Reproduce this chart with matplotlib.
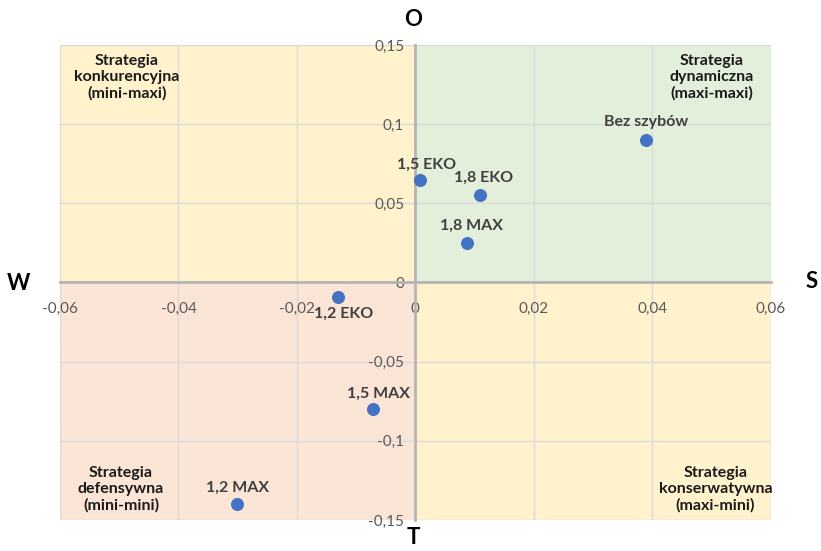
import matplotlib.pyplot as plt
from matplotlib.patches import Rectangle
from matplotlib.ticker import FuncFormatter

# data
labels = ['Bez szybów', '1,5 EKO', '1,8 EKO', '1,8 MAX', '1,2 EKO', '1,5 MAX', '1,2 MAX']
x_vals = [0.039, 0.0008, 0.011, 0.0088, -0.013, -0.0071, -0.0301]
y_vals = [0.090, 0.065, 0.055, 0.025, -0.009, -0.080, -0.140]
# label offsets in points (dx, dy)
label_offsets = [(0, 13), (5, 11), (2, 13), (3, 12), (4, -12), (4, 11), (0, 12)]

x_ticks = [-0.06, -0.04, -0.02, 0, 0.02, 0.04, 0.06]
y_ticks = [-0.15, -0.1, -0.05, 0, 0.05, 0.1, 0.15]

quadrant_texts = ['Strategia\nkonkurencyjna\n(mini-maxi)',
                  'Strategia\ndynamiczna\n(maxi-maxi)',
                  'Strategia\ndefensywna\n(mini-mini)',
                  'Strategia\nkonserwatywna\n(maxi-mini)']

plt.rcParams['font.family'] = ['Lato', 'DejaVu Sans']

fig = plt.figure(figsize=(8.21, 5.51), dpi=100)
ax = fig.add_axes([0.0731, 0.0563, 0.8656, 0.862])
ax.set_xlim(-0.06, 0.06)
ax.set_ylim(-0.15, 0.15)

yellow = '#FFF2CC'
green = '#E2EFDA'
pink = '#FBE5D6'
ax.add_patch(Rectangle((-0.06, 0), 0.06, 0.15, color=yellow, zorder=0))
ax.add_patch(Rectangle((0, 0), 0.06, 0.15, color=green, zorder=0))
ax.add_patch(Rectangle((-0.06, -0.15), 0.06, 0.15, color=pink, zorder=0))
ax.add_patch(Rectangle((0, -0.15), 0.06, 0.15, color=yellow, zorder=0))

ax.set_xticks(x_ticks)
ax.set_yticks(y_ticks)
fmt = FuncFormatter(lambda v, p: ('%g' % round(v, 3)).replace('.', ','))
ax.xaxis.set_major_formatter(fmt)
ax.yaxis.set_major_formatter(fmt)
ax.grid(True, color='#DADADA', lw=1, zorder=1)
ax.set_axisbelow(True)

for side in ['top', 'right']:
    ax.spines[side].set_visible(False)
ax.spines['left'].set_position(('data', 0))
ax.spines['bottom'].set_position(('data', 0))
for side in ['left', 'bottom']:
    ax.spines[side].set_color('#B4B4B4')
    ax.spines[side].set_linewidth(2)
    ax.spines[side].set_zorder(2)
ax.tick_params(length=0, labelsize=11, labelcolor='#595959')
ax.tick_params(axis='x', pad=14)
ax.tick_params(axis='y', pad=8)

ax.scatter(x_vals, y_vals, s=70, color='#4472C4', zorder=3)
for lab, xv, yv, off in zip(labels, x_vals, y_vals, label_offsets):
    ax.annotate(lab, (xv, yv), xytext=off, textcoords='offset points',
                ha='center', va='center', fontsize=11.5, fontweight='bold',
                color='#404040', zorder=4)

qpos = [(-0.0487, 0.1296), (0.050, 0.1296), (-0.0497, -0.1306), (0.0507, -0.1306)]
for txt, (qx, qy) in zip(quadrant_texts, qpos):
    ax.text(qx, qy, txt, ha='center', va='center', fontsize=11.5,
            fontweight='bold', color='#1a1a1a', linespacing=1.15, zorder=4)

# direction letters
fig.text(413 / 821, 1 - 20 / 551, 'O', ha='center', va='center', fontsize=16, fontweight='bold')
fig.text(18 / 821, 1 - 283 / 551, 'W', ha='center', va='center', fontsize=16, fontweight='bold')
fig.text(812 / 821, 1 - 282 / 551, 'S', ha='center', va='center', fontsize=16, fontweight='bold')
fig.text(413 / 821, 1 - 538 / 551, 'T', ha='center', va='center', fontsize=16, fontweight='bold')

fig.savefig('out.png', dpi=100)
